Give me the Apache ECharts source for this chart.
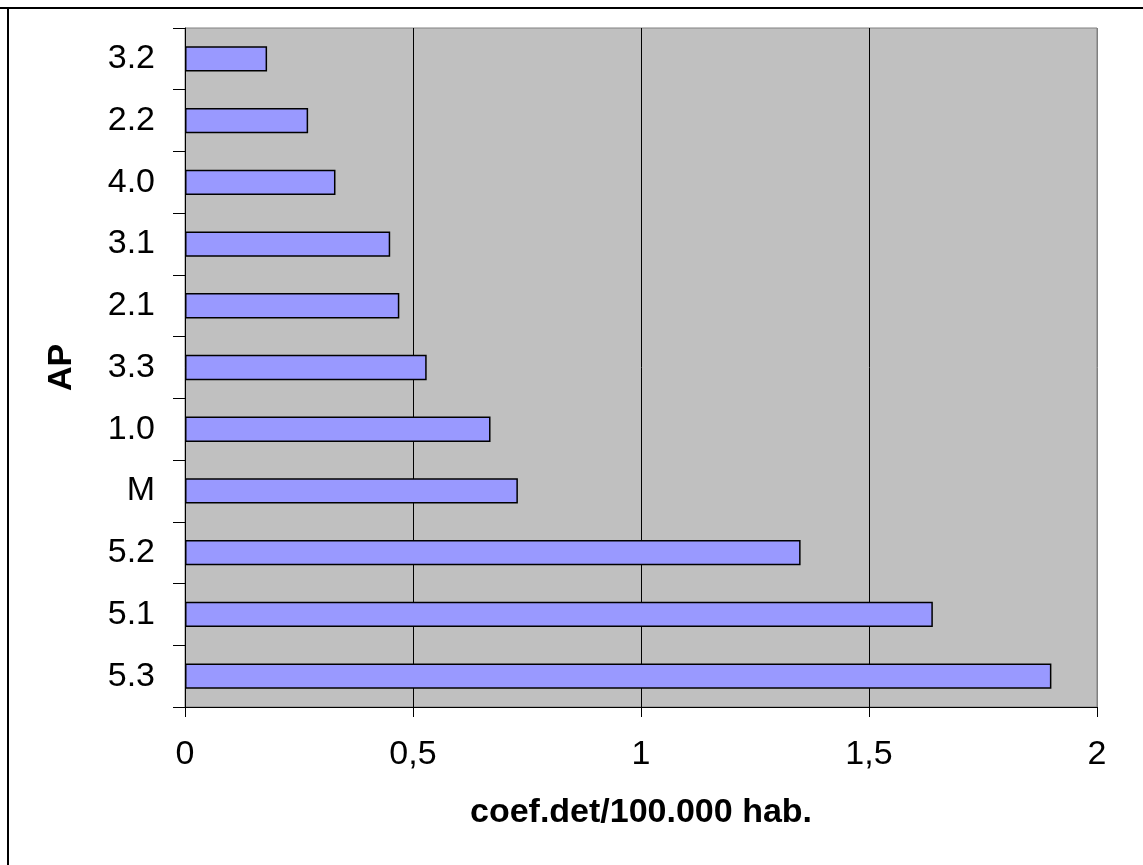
<!DOCTYPE html>
<html>
<head>
<meta charset="utf-8">
<script src="https://cdn.jsdelivr.net/npm/echarts@6/dist/echarts.min.js"></script>
<style>
  html, body { margin: 0; padding: 0; background: #ffffff; }
  #chart { width: 1143px; height: 865px; }
</style>
</head>
<body>
<div id="chart"></div>
<script>
// Area codes, listed from top to bottom
const categories = ['3.2', '2.2', '4.0', '3.1', '2.1', '3.3', '1.0', 'M', '5.2', '5.1', '5.3'];
// Coefficient per 100.000 inhabitants
const values = [0.18, 0.27, 0.33, 0.45, 0.47, 0.53, 0.67, 0.73, 1.35, 1.64, 1.90];
// Value axis tick labels (decimal comma)
const tickLabels = { 0: '0', 0.5: '0,5', 1: '1', 1.5: '1,5', 2: '2' };

const FONT = '"Liberation Sans", Arial, Helvetica, sans-serif';
const FS = 34;

const chart = echarts.init(document.getElementById('chart'), null, { renderer: 'canvas' });

chart.setOption({
  animation: false,
  backgroundColor: '#ffffff',
  graphic: [
    // frame lines along the top and left edges
    { type: 'line', shape: { x1: 0, y1: 8, x2: 1143, y2: 8 }, style: { stroke: '#000', lineWidth: 2 } },
    { type: 'line', shape: { x1: 8, y1: 8, x2: 8, y2: 865 }, style: { stroke: '#000', lineWidth: 2 } }
  ],
  grid: {
    left: 185, top: 28, right: 46, bottom: 158,
    show: true,
    backgroundColor: '#c0c0c0',
    borderColor: '#808080',
    borderWidth: 1
  },
  xAxis: {
    type: 'value',
    min: 0, max: 2, interval: 0.5,
    name: 'coef.det/100.000 hab.',
    nameLocation: 'middle',
    nameGap: 89,
    nameTextStyle: { fontFamily: FONT, fontSize: FS, fontWeight: 'bold', color: '#000' },
    axisLine: { show: true, lineStyle: { color: '#000', width: 1 } },
    axisTick: { show: true, length: 10, lineStyle: { color: '#000' } },
    axisLabel: {
      margin: 31,
      fontFamily: FONT, fontSize: FS, color: '#000',
      formatter: v => tickLabels[v] !== undefined ? tickLabels[v] : String(v)
    },
    splitLine: { show: true, lineStyle: { color: ['#000', '#000', '#000', '#000', '#808080'], width: 1 } }
  },
  yAxis: {
    type: 'category',
    data: categories,
    inverse: true,
    name: 'AP',
    nameLocation: 'middle',
    nameGap: 106,
    nameTextStyle: { fontFamily: FONT, fontSize: FS, fontWeight: 'bold', color: '#000' },
    axisLine: { show: true, lineStyle: { color: '#000', width: 1 } },
    axisTick: { show: true, length: 12, alignWithLabel: false, lineStyle: { color: '#000' } },
    axisLabel: { margin: 30, fontFamily: FONT, fontSize: FS, color: '#000' },
    splitLine: { show: false }
  },
  series: [{
    type: 'bar',
    data: values,
    barCategoryGap: '59%',
    itemStyle: { color: '#9999ff', borderColor: '#000', borderWidth: 1.5 }
  }]
});
</script>
</body>
</html>
